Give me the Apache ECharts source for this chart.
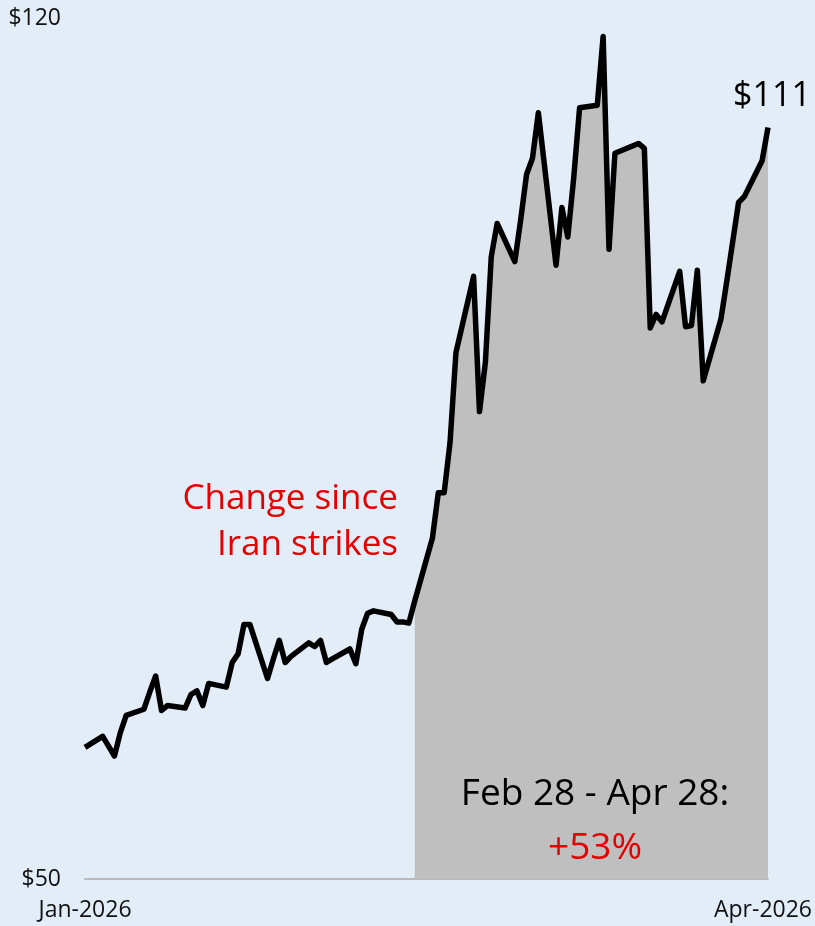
<!DOCTYPE html>
<html>

<head>
    <title></title>
    <meta charset="UTF-8">
    <script src="https://cdn.jsdelivr.net/npm/echarts@6/dist/echarts.min.js"></script>
</head>
<style type="text/css">
    html,
    body {
        height: 100%;
        width: 100%;
        margin: 0;
        padding: 0;
        background: #e2edf8;
    }

    #main {
        height: 100%;
    }
</style>

<body>
    <div id="main"></div>
</body>
<script>
    // daily closes, Jan 2 - Apr 28 2026
    var dates = [
        '2026-01-02', '2026-01-05', '2026-01-06', '2026-01-07', '2026-01-08', '2026-01-09',
        '2026-01-12', '2026-01-13', '2026-01-14', '2026-01-15', '2026-01-16',
        '2026-01-19', '2026-01-20', '2026-01-21', '2026-01-22', '2026-01-23',
        '2026-01-26', '2026-01-27', '2026-01-28', '2026-01-29', '2026-01-30',
        '2026-02-02', '2026-02-03', '2026-02-04', '2026-02-05', '2026-02-06',
        '2026-02-09', '2026-02-10', '2026-02-11', '2026-02-12', '2026-02-13',
        '2026-02-16', '2026-02-17', '2026-02-18', '2026-02-19', '2026-02-20',
        '2026-02-23', '2026-02-24', '2026-02-25', '2026-02-26', '2026-02-27',
        '2026-03-02', '2026-03-03', '2026-03-04', '2026-03-05', '2026-03-06',
        '2026-03-09', '2026-03-10', '2026-03-11', '2026-03-12', '2026-03-13',
        '2026-03-16', '2026-03-17', '2026-03-18', '2026-03-19', '2026-03-20',
        '2026-03-23', '2026-03-24', '2026-03-25', '2026-03-26', '2026-03-27',
        '2026-03-30', '2026-03-31', '2026-04-01', '2026-04-02',
        '2026-04-06', '2026-04-07', '2026-04-08', '2026-04-09', '2026-04-10',
        '2026-04-13', '2026-04-14', '2026-04-15', '2026-04-16', '2026-04-17',
        '2026-04-20', '2026-04-21', '2026-04-22', '2026-04-23', '2026-04-24',
        '2026-04-27', '2026-04-28'
    ];
    var prices = [
        60.7, 61.6, 60.8, 60.0, 61.9, 63.3,
        63.8, 65.2, 66.5, 63.7, 64.1,
        63.9, 65.0, 65.3, 64.1, 65.9,
        65.6, 67.6, 68.3, 70.7, 70.7,
        66.3, 67.9, 69.4, 67.6, 68.1,
        69.2, 68.9, 69.4, 67.6, 67.9,
        68.7, 67.5, 70.3, 71.6, 71.8,
        71.5, 70.9, 70.9, 70.8, 72.6,
        77.7, 81.4, 81.4, 85.5, 92.8,
        99.0, 88.0, 92.0, 100.6, 103.3,
        100.2, 103.6, 107.3, 108.6, 112.3,
        99.9, 104.6, 102.2, 107.0, 112.7,
        112.9, 118.5, 101.2, 109.0,
        109.8, 109.4, 94.8, 95.9, 95.3,
        99.4, 94.9, 95.0, 99.5, 90.5,
        95.5, 98.6, 101.8, 105.0, 105.5,
        108.4, 111.1
    ];
    var strikeDate = '2026-02-27';
    var yTicks = [50, 120];
    var xTickLabels = ['Jan-2026', 'Apr-2026'];

    var font = '"Open Sans", "Noto Sans", sans-serif';
    var DAY = 86400000;
    var t0 = Date.parse(dates[0]);
    // calendar day number since the first date, so weekends keep their width
    var days = dates.map(function (d) { return Math.round((Date.parse(d) - t0) / DAY); });
    var lastIdx = prices.length - 1;
    var lineData = days.map(function (d, i) { return [d, prices[i]]; });
    var startIdx = dates.indexOf(strikeDate);
    var areaData = lineData.slice(startIdx);
    var change = Math.round((prices[lastIdx] / prices[startIdx] - 1) * 100);

    var myChart = echarts.init(document.getElementById('main'));

    var option = {
        backgroundColor: '#e2edf8',
        animation: false,
        textStyle: { fontFamily: font },
        grid: { left: 85, right: 47, top: 18, bottom: 47, outerBoundsMode: 'none' },
        xAxis: {
            type: 'value',
            min: 0,
            max: days[lastIdx],
            interval: days[lastIdx],
            axisLine: { show: true, lineStyle: { color: '#b9b9b9', width: 2 } },
            axisTick: { show: false },
            splitLine: { show: false },
            axisLabel: {
                color: '#111',
                fontSize: 23,
                fontFamily: font,
                margin: 20,
                formatter: function (v) {
                    return v === 0 ? xTickLabels[0] : '{r|' + xTickLabels[1] + '}';
                },
                rich: { r: { fontSize: 23, fontFamily: font, color: '#111', padding: [0, 10, 0, 0] } }
            }
        },
        yAxis: {
            type: 'value',
            min: yTicks[0],
            max: yTicks[1],
            interval: yTicks[1] - yTicks[0],
            axisLine: { show: false },
            axisTick: { show: false },
            splitLine: { show: false },
            axisLabel: {
                color: '#111',
                fontSize: 23,
                fontFamily: font,
                margin: 24,
                formatter: function (v) { return '$' + v; }
            }
        },
        series: [
            {
                type: 'line',
                data: areaData,
                symbol: 'none',
                lineStyle: { width: 0 },
                areaStyle: { color: '#bfbfbf', opacity: 1 },
                z: 1,
                silent: true
            },
            {
                type: 'line',
                data: lineData,
                symbol: 'none',
                lineStyle: { color: '#000', width: 5.5, join: 'round' },
                z: 3,
                markPoint: {
                    symbol: 'circle',
                    symbolSize: 0,
                    data: [{ coord: lineData[lastIdx], value: prices[lastIdx] }],
                    label: {
                        show: true,
                        position: 'top',
                        distance: 14,
                        offset: [4, 0],
                        fontSize: 34,
                        fontFamily: font,
                        color: '#000',
                        formatter: function (p) { return '$' + Math.round(p.value); }
                    }
                }
            }
        ],
        graphic: [
            {
                type: 'text', right: 417, top: 476, z: 10,
                style: {
                    text: 'Change since\nIran strikes', fill: '#e60000',
                    font: '35px ' + font, textAlign: 'right', lineHeight: 46
                }
            },
            {
                type: 'text', x: 595, y: 794, z: 10,
                style: {
                    text: 'Feb 28 - Apr 28:', fill: '#000',
                    font: '37px ' + font, textAlign: 'center', textVerticalAlign: 'middle'
                }
            },
            {
                type: 'text', x: 595, y: 848, z: 10,
                style: {
                    text: '+' + change + '%', fill: '#e60000',
                    font: '37px ' + font, textAlign: 'center', textVerticalAlign: 'middle'
                }
            }
        ]
    };
    myChart.setOption(option);

    window.addEventListener("resize", function () {
        myChart.resize();
    });
</script>

</html>
